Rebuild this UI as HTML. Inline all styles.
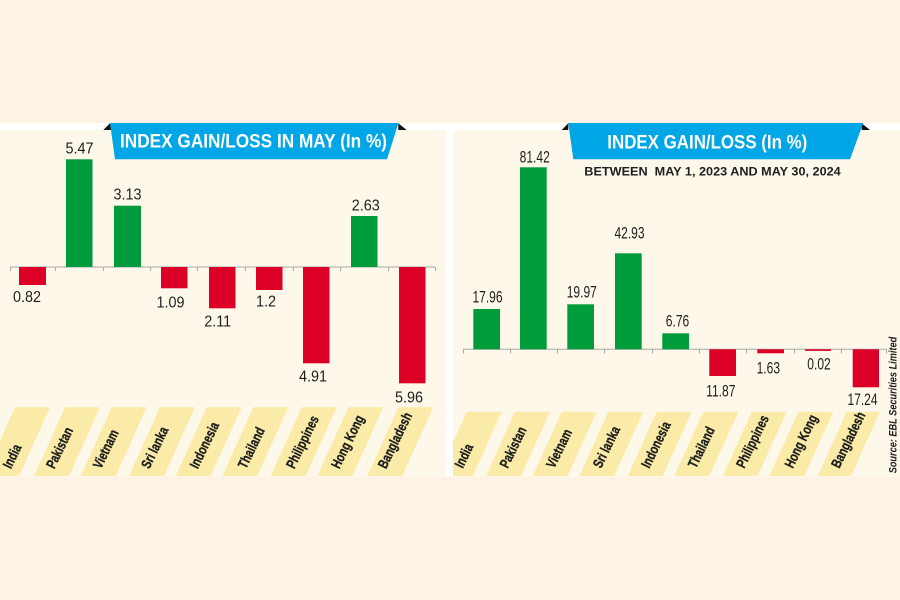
<!DOCTYPE html>
<html>
<head>
<meta charset="utf-8">
<style>
  html,body{margin:0;padding:0;background:#fdf2e4;}
  svg{display:block;}
  .v{font-family:"Liberation Sans",sans-serif;fill:#1e1e1e;}
  .c{font-family:"Liberation Sans",sans-serif;font-size:14px;font-weight:bold;fill:#1e1e1e;stroke:#1e1e1e;stroke-width:0.35px;}
  .t{font-family:"Liberation Sans",sans-serif;font-weight:bold;fill:#ffffff;}
</style>
</head>
<body>
<svg width="900" height="600" viewBox="0 0 900 600" xmlns="http://www.w3.org/2000/svg">
  <defs>
    <clipPath id="cl"><rect x="0" y="130" width="446" height="347"/></clipPath>
    <clipPath id="cr"><rect x="453" y="130" width="447" height="347"/></clipPath>
  </defs>
  <rect x="0" y="0" width="900" height="600" fill="#fdf2e4"/>
  <rect x="0" y="123" width="900" height="7" fill="#ffffff"/>
  <rect x="446" y="123" width="7" height="354" fill="#ffffff"/>
  <rect x="0" y="130" width="446" height="347" fill="#fef8eb"/>
  <rect x="453" y="130" width="447" height="347" fill="#fef8eb"/>

  <!-- ============ LEFT PANEL ============ -->
  <g stroke="#a8a8a8" stroke-width="1" fill="none">
    <line x1="10" y1="267" x2="435" y2="267"/>
    <line x1="10.5" y1="267" x2="10.5" y2="271"/>
    <line x1="55.5" y1="267" x2="55.5" y2="271"/>
    <line x1="103.5" y1="267" x2="103.5" y2="271"/>
    <line x1="150.5" y1="267" x2="150.5" y2="271"/>
    <line x1="197.5" y1="267" x2="197.5" y2="271"/>
    <line x1="245.5" y1="267" x2="245.5" y2="271"/>
    <line x1="293.5" y1="267" x2="293.5" y2="271"/>
    <line x1="340.5" y1="267" x2="340.5" y2="271"/>
    <line x1="388.5" y1="267" x2="388.5" y2="271"/>
    <line x1="435.5" y1="267" x2="435.5" y2="271"/>
  </g>
  <g>
    <rect x="19" y="267" width="27" height="18" fill="#dc0026"/>
    <rect x="66" y="159.3" width="26.5" height="107.7" fill="#009b3a"/>
    <rect x="114" y="205.7" width="27" height="61.3" fill="#009b3a"/>
    <rect x="161" y="267" width="26.5" height="21.3" fill="#dc0026"/>
    <rect x="209" y="267" width="26.5" height="41.3" fill="#dc0026"/>
    <rect x="256" y="267" width="26.5" height="23" fill="#dc0026"/>
    <rect x="303" y="267" width="26.5" height="96.3" fill="#dc0026"/>
    <rect x="351" y="216" width="26.5" height="51" fill="#009b3a"/>
    <rect x="399" y="267" width="26.5" height="116.3" fill="#dc0026"/>
  </g>
  <g class="v" text-anchor="middle" font-size="16">
    <text transform="translate(27,302) scale(0.9,1)">0.82</text>
    <text transform="translate(79.5,153.3) scale(0.9,1)">5.47</text>
    <text transform="translate(127.5,199.3) scale(0.9,1)">3.13</text>
    <text transform="translate(170.5,307.3) scale(0.9,1)">1.09</text>
    <text transform="translate(217.7,326.7) scale(0.9,1)">2.11</text>
    <text transform="translate(266,306.7) scale(0.9,1)">1.2</text>
    <text transform="translate(313,381.7) scale(0.9,1)">4.91</text>
    <text transform="translate(365.8,210.7) scale(0.9,1)">2.63</text>
    <text transform="translate(409,402.7) scale(0.9,1)">5.96</text>
  </g>
  <g clip-path="url(#cl)" fill="#faeca8">
    <polygon points="15,407.3 50,407.3 19,476 -16,476"/>
    <polygon points="65,407.3 100,407.3 69,476 34,476"/>
    <polygon points="111.7,407.3 146.7,407.3 115.7,476 80.7,476"/>
    <polygon points="160,407.3 195,407.3 164,476 129,476"/>
    <polygon points="206.7,407.3 241.7,407.3 210.7,476 175.7,476"/>
    <polygon points="253.3,407.3 288.3,407.3 257.3,476 222.3,476"/>
    <polygon points="301.7,407.3 336.7,407.3 305.7,476 270.7,476"/>
    <polygon points="348.3,407.3 383.3,407.3 352.3,476 317.3,476"/>
    <polygon points="398.3,407.3 433.3,407.3 402.3,476 367.3,476"/>
  </g>
  <g class="c">
    <text transform="translate(11,469.5) rotate(-64) scale(0.76,1)">India</text>
    <text transform="translate(54.3,469.5) rotate(-64) scale(0.76,1)">Pakistan</text>
    <text transform="translate(101,469.5) rotate(-64) scale(0.76,1)">Vietnam</text>
    <text transform="translate(149.3,469.5) rotate(-64) scale(0.76,1)">Sri lanka</text>
    <text transform="translate(197.7,469.5) rotate(-64) scale(0.76,1)">Indonesia</text>
    <text transform="translate(246,469.5) rotate(-64) scale(0.76,1)">Thailand</text>
    <text transform="translate(294.3,469.5) rotate(-64) scale(0.76,1)">Philippines</text>
    <text transform="translate(339.3,469.5) rotate(-64) scale(0.76,1)">Hong Kong</text>
    <text transform="translate(386,469.5) rotate(-64) scale(0.76,1)">Bangladesh</text>
  </g>
  <polygon points="103.3,130 110,123.3 111.7,130" fill="#111"/>
  <polygon points="398.3,123.3 406.7,130 398.3,130" fill="#111"/>
  <polygon points="110,123 398.5,123 387,159.3 115,159.3" fill="#00a6e6"/>
  <text class="t" x="120" y="147.5" font-size="19.5" textLength="267" lengthAdjust="spacingAndGlyphs">INDEX GAIN/LOSS IN MAY (In %)</text>

  <!-- ============ RIGHT PANEL ============ -->
  <g stroke="#a8a8a8" stroke-width="1" fill="none">
    <line x1="463" y1="349.3" x2="887" y2="349.3"/>
    <line x1="463.5" y1="349.3" x2="463.5" y2="353.5"/>
    <line x1="510.5" y1="349.3" x2="510.5" y2="353.5"/>
    <line x1="557.5" y1="349.3" x2="557.5" y2="353.5"/>
    <line x1="604.5" y1="349.3" x2="604.5" y2="353.5"/>
    <line x1="652.5" y1="349.3" x2="652.5" y2="353.5"/>
    <line x1="699.5" y1="349.3" x2="699.5" y2="353.5"/>
    <line x1="746.5" y1="349.3" x2="746.5" y2="353.5"/>
    <line x1="794.5" y1="349.3" x2="794.5" y2="353.5"/>
    <line x1="841.5" y1="349.3" x2="841.5" y2="353.5"/>
    <line x1="886.5" y1="349.3" x2="886.5" y2="353.5"/>
  </g>
  <g>
    <rect x="473.3" y="309" width="26.7" height="40.3" fill="#009b3a"/>
    <rect x="520" y="167.3" width="26.7" height="182" fill="#009b3a"/>
    <rect x="567.3" y="304.3" width="26.7" height="45" fill="#009b3a"/>
    <rect x="615" y="253.3" width="26.7" height="96" fill="#009b3a"/>
    <rect x="662.3" y="333.3" width="26.7" height="16" fill="#009b3a"/>
    <rect x="709.3" y="349.3" width="26.7" height="26.7" fill="#dc0026"/>
    <rect x="757.3" y="349.3" width="26.7" height="4" fill="#dc0026"/>
    <rect x="805" y="349.3" width="26" height="1.6" fill="#dc0026"/>
    <rect x="852.7" y="349.3" width="26.3" height="38" fill="#dc0026"/>
  </g>
  <g class="v" text-anchor="middle" font-size="16.5">
    <text transform="translate(487.5,302.3) scale(0.73,1)">17.96</text>
    <text transform="translate(534.7,162.7) scale(0.73,1)">81.42</text>
    <text transform="translate(581.8,297.3) scale(0.73,1)">19.97</text>
    <text transform="translate(629.5,238.3) scale(0.73,1)">42.93</text>
    <text transform="translate(677.5,326.7) scale(0.73,1)">6.76</text>
    <text transform="translate(720.8,396.7) scale(0.73,1)">11.87</text>
    <text transform="translate(768.3,373.3) scale(0.73,1)">1.63</text>
    <text transform="translate(819,369.3) scale(0.73,1)">0.02</text>
    <text transform="translate(862.5,405) scale(0.73,1)">17.24</text>
  </g>
  <g clip-path="url(#cr)" fill="#faeca8">
    <polygon points="466.7,411.7 501.7,411.7 472.7,476 437.7,476"/>
    <polygon points="515,411.7 550,411.7 521,476 486,476"/>
    <polygon points="561.7,411.7 596.7,411.7 567.7,476 532.7,476"/>
    <polygon points="608.3,411.7 643.3,411.7 614.3,476 579.3,476"/>
    <polygon points="656.7,411.7 691.7,411.7 662.7,476 627.7,476"/>
    <polygon points="703.3,411.7 738.3,411.7 709.3,476 674.3,476"/>
    <polygon points="751.7,411.7 786.7,411.7 757.7,476 722.7,476"/>
    <polygon points="798.3,411.7 833.3,411.7 804.3,476 769.3,476"/>
    <polygon points="846.7,411.7 880,411.7 851,476 817.7,476"/>
  </g>
  <g class="c">
    <text transform="translate(462.7,469) rotate(-64) scale(0.76,1)">India</text>
    <text transform="translate(507.7,469) rotate(-64) scale(0.76,1)">Pakistan</text>
    <text transform="translate(554.3,469) rotate(-64) scale(0.76,1)">Vietnam</text>
    <text transform="translate(601,469) rotate(-64) scale(0.76,1)">Sri lanka</text>
    <text transform="translate(649.3,469) rotate(-64) scale(0.76,1)">Indonesia</text>
    <text transform="translate(696,469) rotate(-64) scale(0.76,1)">Thailand</text>
    <text transform="translate(744.3,469) rotate(-64) scale(0.76,1)">Philippines</text>
    <text transform="translate(792.7,469) rotate(-64) scale(0.76,1)">Hong Kong</text>
    <text transform="translate(839.3,469) rotate(-64) scale(0.76,1)">Bangladesh</text>
  </g>
  <text transform="translate(896.5,473.3) rotate(-90)" font-family="Liberation Sans, sans-serif" font-size="11" font-weight="bold" font-style="italic" fill="#1e1e1e" textLength="136.5" lengthAdjust="spacingAndGlyphs">Source: EBL Securities Limited</text>
  <polygon points="561.7,130 568.3,123.3 568.3,130" fill="#111"/>
  <polygon points="861.7,123.3 870,130 861.7,130" fill="#111"/>
  <polygon points="568.3,123 863.3,123 850,159.3 573.3,159.3" fill="#00a6e6"/>
  <text class="t" x="607.3" y="148.3" font-size="19.5" textLength="200" lengthAdjust="spacingAndGlyphs">INDEX GAIN/LOSS (In %)</text>
  <text x="584.3" y="175.7" font-family="Liberation Sans, sans-serif" font-size="11.5" font-weight="bold" fill="#1e1e1e" textLength="256.4" lengthAdjust="spacingAndGlyphs" xml:space="preserve">BETWEEN  MAY 1, 2023 AND MAY 30, 2024</text>
</svg>
</body>
</html>
